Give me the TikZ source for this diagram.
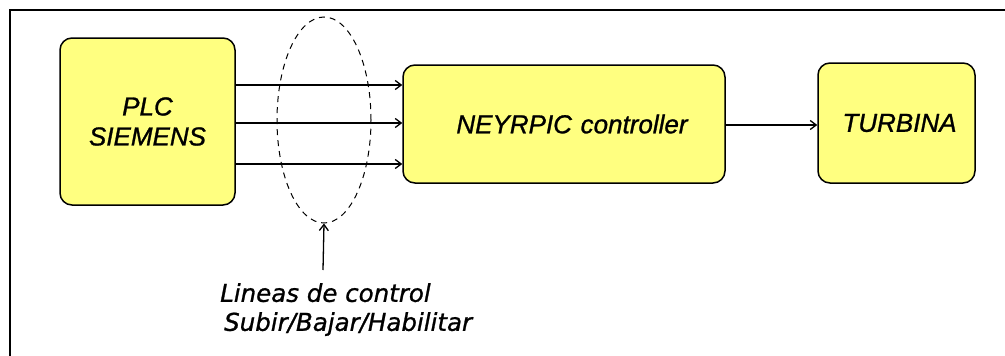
\documentclass[tikz,border=0pt]{standalone}
\usepackage{fontspec}
\setmainfont[FakeBold=1]{Liberation Sans}
\newfontfamily\notefont[FakeBold=1]{DejaVu Sans}
\usetikzlibrary{shapes.geometric,arrows.meta}
\definecolor{boxyellow}{RGB}{255,255,128}

\begin{document}
\begin{tikzpicture}[x=1pt,y=-1pt,
  block/.style={draw, line width=1.5pt, fill=boxyellow, rounded corners=12pt, align=center, inner sep=0pt,
    font=\itshape\fontsize{26}{30}\selectfont},
  signal/.style={-{Straight Barb[length=6pt,width=9pt]}, line width=1.3pt}]
\useasboundingbox (0,0) rectangle (1005,356);
\draw[line width=2.5pt] (10,356) -- (10,10) -- (1005,10);

\node[block, minimum width=175pt, minimum height=167pt] (plc) at (147.5,121.5) {PLC\\SIEMENS};
\node[block, minimum width=322pt, minimum height=118pt, text width=300pt] (ctrl) at (564,124) {\hspace*{16pt}NEYRPIC controller};
\node[block, minimum width=157pt, minimum height=120pt] (turb) at (896.5,123) {\hspace*{6pt}TURBINA};

% control lines
\foreach \y in {85,123,164}
  \draw[signal] (plc.east |- 0,\y) -- (ctrl.west |- 0,\y);
\draw[signal] (ctrl.east |- 0,125) -- (turb.west |- 0,125);

\node[draw, ellipse, dashed, dash pattern=on 6pt off 5pt, line width=1pt, minimum width=94pt, minimum height=206pt, inner sep=0pt] (bundle) at (324,120) {};

\node[anchor=north west, align=left, inner sep=0pt, font=\notefont\itshape\fontsize{24.5}{29}\selectfont] (note) at (220,283) {Lineas de control\\\hspace*{4pt}Subir/Bajar/Habilitar};
\coordinate (tail) at (323,270);
\draw[signal] (tail) -- (bundle.south);

\end{tikzpicture}
\end{document}
